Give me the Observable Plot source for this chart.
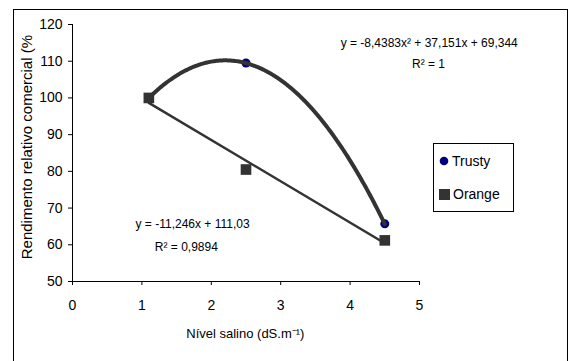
<!DOCTYPE html>
<html><head><meta charset="utf-8">
<script src="https://cdn.jsdelivr.net/npm/d3@7"></script>
<script src="https://cdn.jsdelivr.net/npm/@observablehq/plot@0.6"></script>
<style>
body{margin:0;background:#fff;font-family:"Liberation Sans",Arial,sans-serif;}
#wrap{position:relative;width:571px;height:361px;overflow:hidden;background:#fff;}
#border{position:absolute;left:13px;top:9px;width:555px;height:400px;border:1.3px solid #000;box-sizing:border-box;z-index:3;pointer-events:none;}
#legend{position:absolute;left:433px;top:143px;width:81px;height:69px;border:1px solid #000;box-sizing:border-box;background:#fff;font-size:14px;color:#000;z-index:2;}
.li{position:absolute;left:5px;display:flex;align-items:center;gap:3px;}
</style></head>
<body><div id="wrap"><div id="border"></div></div>
<script>
const salinity = [1.1, 2.5, 4.5];
const trusty = [100, 109.5, 65.7];
const orange = [100, 80.5, 61.2];
const seriesNames = ["Trusty", "Orange"];
const trustyCoef = [-8.4383, 37.151, 69.344];
const orangeCoef = [-11.246, 111.03];
const trustyEq = ["y = -8,4383x² + 37,151x + 69,344", "R² = 1"];
const orangeEq = ["y = -11,246x + 111,03", "R² = 0,9894"];
const xTicks = [0, 1, 2, 3, 4, 5];
const yTicks = [50, 60, 70, 80, 90, 100, 110, 120];

const tData = salinity.map((x, i) => ({x, y: trusty[i]}));
const oData = salinity.map((x, i) => ({x, y: orange[i]}));
const xs = d3.range(salinity[0], salinity[2] + 1e-9, 0.02);
const tFit = xs.map(x => ({x, y: trustyCoef[0]*x*x + trustyCoef[1]*x + trustyCoef[2]}));
const oFit = [salinity[0], salinity[2]].map(x => ({x, y: orangeCoef[0]*x + orangeCoef[1]}));

const plot = Plot.plot({
  width: 571, height: 361,
  marginLeft: 72, marginRight: 152, marginTop: 24, marginBottom: 80,
  style: {fontFamily: '"Liberation Sans", Arial, sans-serif', fontSize: "14px", color: "#000", background: "transparent"},
  x: {domain: [0, 5], ticks: xTicks, tickFormat: "d", tickSize: 4, tickPadding: 15, label: null},
  y: {domain: [50, 120], ticks: yTicks, tickFormat: "d", tickSize: 4, tickPadding: 6, label: null},
  marks: [
    Plot.ruleX([0], {stroke: "#000", strokeWidth: 1}),
    Plot.ruleY([50], {stroke: "#000", strokeWidth: 1}),
    Plot.dot(tData, {x: "x", y: "y", r: 4.5, fill: "#000080", stroke: "none"}),
    Plot.line(tFit, {x: "x", y: "y", stroke: "#333", strokeWidth: 4, curve: "linear"}),
    Plot.line(oFit, {x: "x", y: "y", stroke: "#333", strokeWidth: 2.5}),
    Plot.dot(oData, {x: "x", y: "y", symbol: "square", r: 6, fill: "#333", stroke: "none"}),
    Plot.text([trustyEq[0]], {x: 5.14, y: 114.8, text: d => d, fontSize: 12, fill: "#000", clip: false}),
    Plot.text([trustyEq[1]], {x: 5.13, y: 109.1, text: d => d, fontSize: 12, fill: "#000", clip: false}),
    Plot.text([orangeEq[0]], {x: 1.73, y: 65.6, text: d => d, fontSize: 12, fill: "#000"}),
    Plot.text([orangeEq[1]], {x: 1.64, y: 59.3, text: d => d, fontSize: 12, fill: "#000"}),
    Plot.text(["Nível salino (dS.m⁻¹)"], {x: 2.49, y: 50, dy: 52, text: d => d, fontSize: 13, fill: "#000", clip: false}),
    Plot.text(["Rendimento relativo comercial (%"], {frameAnchor: "left", textAnchor: "middle", dx: -45, y: 86.6, rotate: -90, text: d => d, fontSize: 15, fill: "#000", clip: false})
  ]
});
plot.style.position = "absolute";
plot.style.left = "0px";
plot.style.top = "0px";
plot.style.zIndex = "1";
document.getElementById("wrap").appendChild(plot);

const lg = document.createElement("div");
lg.id = "legend";
const sym = [
  '<svg width="10" height="10"><circle cx="5" cy="5" r="4.3" fill="#000080"/></svg>',
  '<svg width="11" height="11"><rect x="0" y="0" width="11" height="11" fill="#333"/></svg>'
];
lg.innerHTML = seriesNames.map((n, i) =>
  `<div class="li" style="top:${i === 0 ? 9 : 42}px">${sym[i]}<span>${n}</span></div>`).join("");
document.getElementById("wrap").appendChild(lg);
</script></body></html>
